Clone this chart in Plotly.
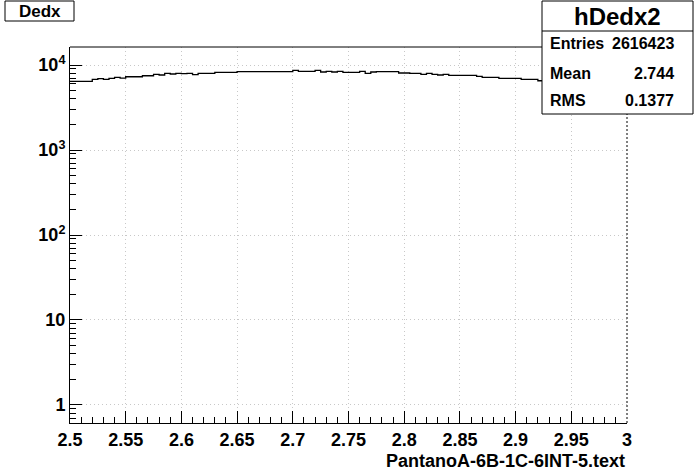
import numpy as np
import plotly.graph_objects as go

# ---- data ----
x_min, x_max, n_bins = 2.5, 3.0, 100
counts = [
    6430, 6430, 6430, 6430, 6790, 6900, 6790, 6980, 7170, 7030,
    7280, 7280, 7280, 7480, 7480, 7780, 7630, 7980, 7840, 7980,
    7900, 7980, 7690, 7980, 7980, 7980, 8210, 8210, 8210, 8210,
    8340, 8340, 8340, 8340, 8340, 8340, 8340, 8340, 8340, 8340,
    8660, 8430, 8430, 8430, 8660, 8280, 8430, 8280, 8430, 8210,
    8210, 8210, 8430, 7980, 8280, 8340, 8340, 8340, 8340, 8050,
    8050, 7980, 7980, 7780, 7980, 7780, 7630, 7780, 7570, 7570,
    7570, 7570, 7570, 7360, 7170, 7170, 7170, 6980, 6980, 6980,
    6980, 6790, 6790, 6790, 6530, 6450, 6400, 6380, 6300, 6260,
    6200, 6150, 6120, 6050, 6000, 5950, 5900, 5850, 5780, 5700,
]
x_tick_vals = [2.5, 2.55, 2.6, 2.65, 2.7, 2.75, 2.8, 2.85, 2.9, 2.95, 3.0]
x_tick_text = ["2.5", "2.55", "2.6", "2.65", "2.7", "2.75", "2.8", "2.85", "2.9", "2.95", "3"]
y_tick_vals = [1, 10, 100, 1000, 10000]
y_tick_text = ["1", "10", "10<sup>2</sup>", "10<sup>3</sup>", "10<sup>4</sup>"]
hist_name = "hDedx2"
title_text = "Dedx"
x_title = "PantanoA-6B-1C-6INT-5.text"
stats_labels = ["Entries", "Mean", "RMS"]
stats_values = ["2616423", "2.744", "0.1377"]

# ---- build ----
edges = np.linspace(x_min, x_max, n_bins + 1)
xs = list(edges)
ys = list(counts) + [counts[-1]]

FONT = "Liberation Sans"
W, H = 696, 472
L, R, T, B = 70, 627, 47, 423

def px(x):
    return (x - L) / (R - L)

def py(y):
    return (B - y) / (B - T)

minor_y = []
for e in range(-1, 5):
    for k in range(2, 10):
        v = k * 10.0 ** e
        if 0.6 < v < 16000:
            minor_y.append(v)

fig = go.Figure()
fig.add_trace(go.Scatter(x=xs, y=ys, mode="lines", line=dict(color="black", width=1.3, shape="hv"),
                         hoverinfo="skip", showlegend=False))

fig.update_layout(
    width=W, height=H,
    margin=dict(l=L, r=W - R, t=T, b=H - B, pad=0, autoexpand=False),
    paper_bgcolor="white", plot_bgcolor="white",
    font=dict(family=FONT, color="black"),
    showlegend=False,
)
GRID = "#c8c8c8"
GDASH = "1px,3px"
fig.update_xaxes(
    range=[x_min, x_max], tickmode="array", tickvals=x_tick_vals, ticktext=x_tick_text,
    ticks="inside", ticklen=12, tickwidth=1, tickcolor="black",
    tickfont=dict(family=FONT, size=18, weight="bold", color="black"),
    showline=True, linecolor="black", linewidth=1, mirror=False,
    showgrid=True, gridcolor=GRID, griddash=GDASH, gridwidth=1,
    zeroline=False,
    minor=dict(ticks="inside", ticklen=6, tickwidth=1, tickcolor="black", dtick=0.01, showgrid=False, tick0=2.5),
)
fig.update_yaxes(
    type="log", range=[-0.212, 4.212], tickmode="array", tickvals=y_tick_vals, ticktext=y_tick_text,
    ticks="inside", ticklen=12, tickwidth=1, tickcolor="black",
    tickfont=dict(family=FONT, size=18, weight="bold", color="black"),
    showline=True, linecolor="black", linewidth=1, mirror=False,
    showgrid=True, gridcolor=GRID, griddash=GDASH, gridwidth=1,
    zeroline=False,
    minor=dict(ticks="inside", ticklen=6, tickwidth=1, tickcolor="black", tickmode="array",
               tickvals=minor_y, showgrid=False),
)

shapes = [
    dict(type="line", xref="paper", yref="paper", x0=0, x1=1, y0=1, y1=1, line=dict(color="black", width=1), layer="above"),
    dict(type="line", xref="paper", yref="paper", x0=1, x1=1, y0=0, y1=1, line=dict(color="black", width=1, dash="2px,2px"), layer="above"),
    dict(type="rect", xref="paper", yref="paper", x0=px(542), x1=px(693), y0=py(114), y1=py(1),
         fillcolor="white", line=dict(color="black", width=1), layer="above"),
    dict(type="line", xref="paper", yref="paper", x0=px(542), x1=px(693), y0=py(31), y1=py(31),
         line=dict(color="black", width=1), layer="above"),
    dict(type="rect", xref="paper", yref="paper", x0=px(5), x1=px(74), y0=py(21), y1=py(1),
         fillcolor="white", line=dict(color="black", width=1), layer="above"),
]
fig.update_layout(shapes=shapes)

ann = []
ann.append(dict(text=title_text, xref="paper", yref="paper", x=px(39.5), y=py(11), xanchor="center", yanchor="middle",
                showarrow=False, font=dict(family=FONT, size=17, weight="bold", color="black")))
ann.append(dict(text=hist_name, xref="paper", yref="paper", x=px(617.5), y=py(16), xanchor="center", yanchor="middle",
                showarrow=False, font=dict(family=FONT, size=24, weight="bold", color="black")))
for lab, val, yy in zip(stats_labels, stats_values, [44, 73, 100]):
    ann.append(dict(text=lab, xref="paper", yref="paper", x=px(548), y=py(yy), xanchor="left", yanchor="middle",
                    showarrow=False, font=dict(family=FONT, size=16, weight="bold", color="black")))
    ann.append(dict(text=val, xref="paper", yref="paper", x=px(676), y=py(yy), xanchor="right", yanchor="middle",
                    showarrow=False, font=dict(family=FONT, size=16, weight="bold", color="black")))
ann.append(dict(text=x_title, xref="paper", yref="paper", x=1, y=py(461), xanchor="right", yanchor="middle",
                showarrow=False, font=dict(family=FONT, size=18, weight="bold", color="black")))
fig.update_layout(annotations=ann)

fig.write_html("out.html", config={"displayModeBar": False, "staticPlot": True},
               post_script="document.body.style.margin='0';document.body.style.padding='0';")
